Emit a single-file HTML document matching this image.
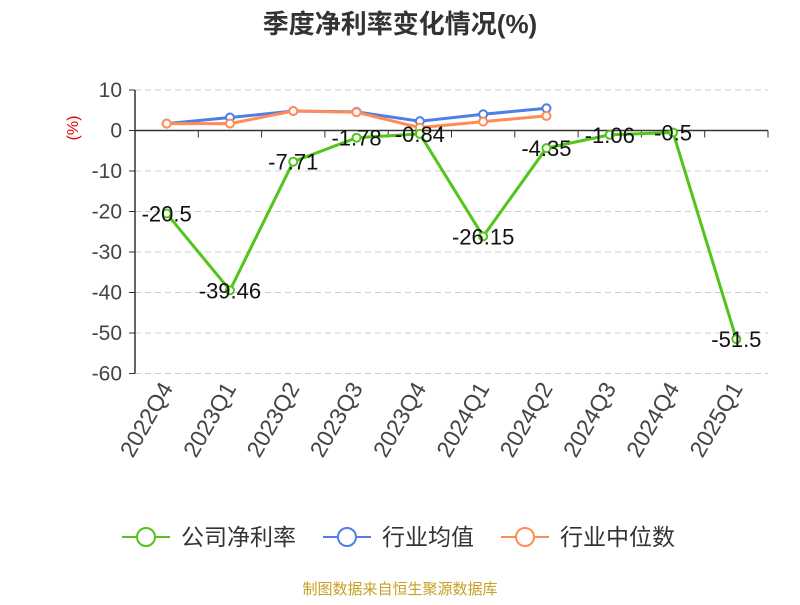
<!DOCTYPE html>
<html><head><meta charset="utf-8"><style>
body{margin:0;background:#fff;font-family:"Liberation Sans","Noto Sans CJK SC",sans-serif;}
svg text{font-family:"Liberation Sans","Noto Sans CJK SC",sans-serif;}
</style></head><body>
<svg id="c" width="800" height="600" xmlns="http://www.w3.org/2000/svg">
<text x="400" y="33" text-anchor="middle" font-size="26" font-weight="bold" fill="#333">季度净利率变化情况(%)</text>
<text x="78" y="128" font-size="16" fill="#e00" transform="rotate(-90 78 128)" text-anchor="middle">(%)</text>
<g id="grid"></g><g id="axes"></g><g id="series"></g>
<g>
<g><line x1="122" y1="537" x2="170" y2="537" stroke="#52c41a" stroke-width="2"/><circle cx="146" cy="537" r="9" fill="#fff" stroke="#52c41a" stroke-width="2"/><text x="181" y="545" font-size="23" fill="#333">公司净利率</text></g>
<g><line x1="323" y1="537" x2="371" y2="537" stroke="#4e7fe6" stroke-width="2"/><circle cx="347" cy="537" r="9" fill="#fff" stroke="#4e7fe6" stroke-width="2"/><text x="382" y="545" font-size="23" fill="#333">行业均值</text></g>
<g><line x1="501" y1="537" x2="549" y2="537" stroke="#ff8c57" stroke-width="2"/><circle cx="525" cy="537" r="9" fill="#fff" stroke="#ff8c57" stroke-width="2"/><text x="560" y="545" font-size="23" fill="#333">行业中位数</text></g>
</g>
<text x="400" y="594" text-anchor="middle" font-size="15" fill="#c8a020">制图数据来自恒生聚源数据库</text>
</svg>
<script>
const categories=["2022Q4","2023Q1","2023Q2","2023Q3","2023Q4","2024Q1","2024Q2","2024Q3","2024Q4","2025Q1"];
const company=[-20.5,-39.46,-7.71,-1.78,-0.84,-26.15,-4.35,-1.06,-0.5,-51.5];
const companyLabels=["-20.5","-39.46","-7.71","-1.78","-0.84","-26.15","-4.35","-1.06","-0.5","-51.5"];
const industryAvg=[1.7,3.2,4.8,4.6,2.3,4.0,5.5];
const industryMedian=[1.7,1.7,4.8,4.5,0.7,2.2,3.6];
const yTicks=[10,0,-10,-20,-30,-40,-50,-60];
const NS="http://www.w3.org/2000/svg";
const L=135,R=768,n=categories.length,bw=(R-L)/n;
const x=i=>L+bw*(i+0.5);
const y=v=>130.5-v*4.05;
function mk(tag,attrs,parent,txt){const e=document.createElementNS(NS,tag);for(const k in attrs)e.setAttribute(k,attrs[k]);if(txt!==undefined)e.textContent=txt;document.getElementById(parent).appendChild(e);return e;}
yTicks.forEach(t=>{
 if(t!==0){const g=mk('line',{x1:L,x2:R,y1:y(t),y2:y(t),stroke:'#ccc','stroke-dasharray':'6,4'},'grid');
 
 }
 const tl=mk('text',{x:L-13,y:y(t)+7,'text-anchor':'end','font-size':'21',fill:'#444'},'axes',String(t));
 
 
 mk('line',{x1:L-6,x2:L,y1:y(t),y2:y(t),stroke:'#333'},'axes');
});
const ya=mk('line',{x1:L,x2:L,y1:y(10),y2:y(-60),stroke:'#333','stroke-width':1.5},'axes');


const xa=mk('line',{x1:L,x2:R,y1:y(0),y2:y(0),stroke:'#333','stroke-width':1.5},'axes');


for(let i=0;i<=n;i++)mk('line',{x1:L+bw*i,x2:L+bw*i,y1:y(0),y2:y(0)+7,stroke:'#333'},'axes');
categories.forEach((c,i)=>{
 const t=mk('text',{x:x(i)+7,y:388,'text-anchor':'end','font-size':'23',fill:'#444',transform:`rotate(-60 ${x(i)+7} 388)`},'axes',c);
 
 
});
function series(vals,color,name){
 const p=mk('polyline',{points:vals.map((v,i)=>x(i)+','+y(v)).join(' '),fill:'none',stroke:color,'stroke-width':3},'series');
 
 
 vals.forEach((v,i)=>{const c=mk('circle',{cx:x(i),cy:y(v),r:4,fill:'#fff',stroke:color,'stroke-width':2},'series');
 
 });
}
series(industryAvg,'#4e7fe6','industry-avg');
series(industryMedian,'#ff8c57','industry-median');
series(company,'#52c41a','company');
company.forEach((v,i)=>{
 const t=mk('text',{x:x(i),y:y(v)+8,'text-anchor':'middle','font-size':'22',fill:'#111'},'series',companyLabels[i]);
 
 
});
</script>
</body></html>
